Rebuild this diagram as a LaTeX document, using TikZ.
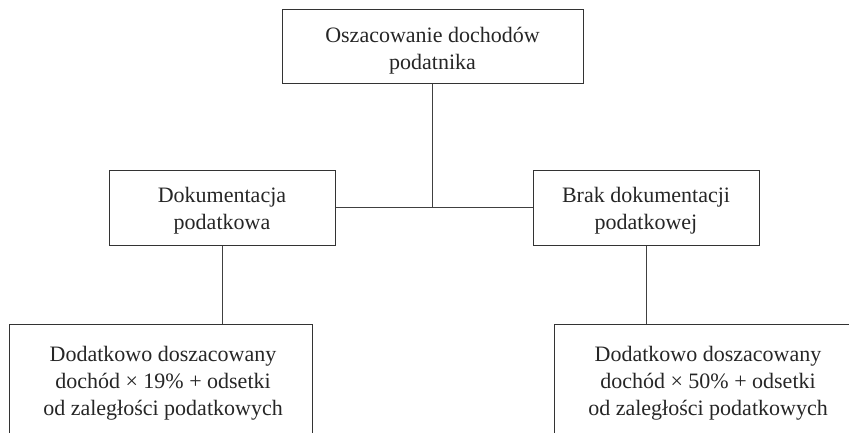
\documentclass[tikz,border=0pt]{standalone}
\usepackage{fontspec}
\setmainfont{Liberation Serif}
\begin{document}
\begin{tikzpicture}[x=1pt,y=-1pt,
  box/.style={draw=black!80, line width=1pt, inner sep=0pt},
  txt/.style={align=center, inner sep=0pt, font=\fontsize{22}{27}\selectfont, text=black!85},
  conn/.style={draw=black!75, line width=1pt}]
\useasboundingbox (0,0) rectangle (849,432);
\clip (0,0) rectangle (849,432);
\node[box, minimum width=301pt, minimum height=74pt] (top) at (432.5,46) {};
\node[txt] (toptxt) at (432.5,51) {Oszacowanie dochodów\\podatnika};
\node[box, minimum width=226pt, minimum height=75pt] (lm) at (222,207.5) {};
\node[txt] (lmtxt) at (222,211) {Dokumentacja\\podatkowa};
\node[box, minimum width=226pt, minimum height=75pt] (rm) at (646,207.5) {};
\node[txt] (rmtxt) at (646,211) {Brak dokumentacji\\podatkowej};
\node[box, minimum width=303pt, minimum height=118pt] (bl) at (160.5,383) {};
\node[txt] (bltxt) at (163,383) {Dodatkowo doszacowany\\dochód × 19\% + odsetki\\od zaległości podatkowych};
\node[box, minimum width=308pt, minimum height=118pt] (br) at (708,383) {};
\node[txt] (brtxt) at (708,383) {Dodatkowo doszacowany\\dochód × 50\% + odsetki\\od zaległości podatkowych};
\draw[conn] (lm.east) -- (rm.west);
\draw[conn] (top.south) -- (top.south |- lm.east);
\draw[conn] (lm.south) -- (lm.south |- bl.north);
\draw[conn] (rm.south) -- (rm.south |- br.north);
\end{tikzpicture}
\end{document}
